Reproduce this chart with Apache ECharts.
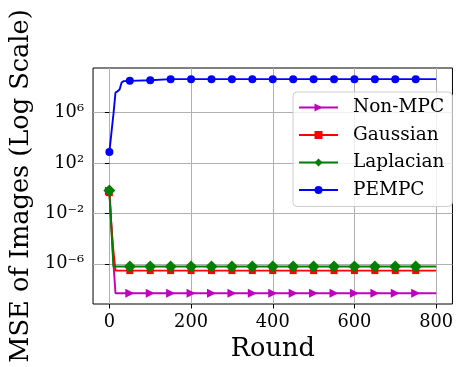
<!DOCTYPE html>
<html>
<head>
<meta charset="utf-8">
<script src="https://cdn.jsdelivr.net/npm/echarts@6/dist/echarts.min.js"></script>
<style>
  html, body { margin: 0; padding: 0; background: #fff; }
  #chart { width: 456px; height: 367px; }
</style>
</head>
<body>
<div id="chart"></div>
<script>
const rounds = [0, 5, 10, 15, 20, 25, 30, 35, 50, 100, 150, 200, 250, 300, 350, 400, 450, 500, 550, 600, 650, 700, 750, 800]

const nonMpc = [0.6, 1e-3, 1e-6, 4.6e-9, 4.6e-9, 4.6e-9, 4.6e-9, 4.6e-9, 4.6e-9, 4.6e-9, 4.6e-9, 4.6e-9, 4.6e-9, 4.6e-9, 4.6e-9, 4.6e-9, 4.6e-9, 4.6e-9, 4.6e-9, 4.6e-9, 4.6e-9, 4.6e-9, 4.6e-9, 4.6e-9]
const gaussian = [0.45, 1e-3, 1e-5, 2.9e-7, 2.9e-7, 2.9e-7, 2.9e-7, 2.9e-7, 2.9e-7, 2.9e-7, 2.9e-7, 2.9e-7, 2.9e-7, 2.9e-7, 2.9e-7, 2.9e-7, 2.9e-7, 2.9e-7, 2.9e-7, 2.9e-7, 2.9e-7, 2.9e-7, 2.9e-7, 2.9e-7]
const laplacian = [0.68, 5e-4, 6.2e-7, 6.2e-7, 6.2e-7, 6.2e-7, 6.2e-7, 6.2e-7, 6.2e-7, 6.2e-7, 6.2e-7, 6.2e-7, 6.2e-7, 6.2e-7, 6.2e-7, 6.2e-7, 6.2e-7, 6.2e-7, 6.2e-7, 6.2e-7, 6.2e-7, 6.2e-7, 6.2e-7, 6.2e-7]
const pempc = [7.7e2, 2.5e4, 8e5, 4e7, 5e7, 7e7, 2.5e8, 3.2e8, 3.4e8, 3.8e8, 4.6e8, 4.6e8, 4.6e8, 4.6e8, 4.6e8, 4.6e8, 4.6e8, 4.6e8, 4.6e8, 4.6e8, 4.6e8, 4.6e8, 4.6e8, 4.6e8]

const markerRounds = [0, 50, 100, 150, 200, 250, 300, 350, 400, 450, 500, 550, 600, 650, 700, 750]
const xTicks = [0, 200, 400, 600, 800]
const yTicks = [1e-6, 1e-2, 1e2, 1e6]

const FONT = 'DejaVu Serif'
const SUP = {'-': '\u207B', '0': '\u2070', '1': '\u00B9', '2': '\u00B2', '3': '\u00B3', '4': '\u2074', '5': '\u2075', '6': '\u2076', '7': '\u2077', '8': '\u2078', '9': '\u2079'}

const toSeries = (name, values, color, symbol, size, rotate) => ({
  name,
  type: 'line',
  data: rounds.map((r, i) => ({
    value: [r, values[i]],
    symbol: markerRounds.includes(r) ? symbol : 'none'
  })),
  color,
  symbol,
  symbolSize: size,
  symbolRotate: rotate,
  showSymbol: true,
  lineStyle: {width: 1.9, color},
  itemStyle: {color},
  emphasis: {disabled: true}
})

const chart = echarts.init(document.getElementById('chart'))
chart.setOption({
  animation: false,
  backgroundColor: '#fff',
  grid: {
    left: 91, right: 2.5, top: 68, bottom: 63,
    show: true, borderColor: '#000', borderWidth: 1
  },
  legend: {
    orient: 'vertical',
    left: 293, top: 92,
    padding: [6, 8, 7, 5],
    itemWidth: 39, itemHeight: 10, itemGap: 8.5,
    backgroundColor: 'rgba(255,255,255,0.8)',
    borderColor: '#cccccc', borderWidth: 1, borderRadius: 4,
    textStyle: {fontFamily: FONT, fontSize: 18.5, color: '#000', padding: [0, 0, 0, 10]}
  },
  xAxis: {
    type: 'value',
    min: -40, max: 840,
    name: 'Round',
    nameLocation: 'middle',
    nameGap: 27,
    nameTextStyle: {fontFamily: FONT, fontSize: 25.6, color: '#000'},
    axisLine: {show: false},
    axisTick: {show: true, customValues: xTicks, length: 4.5, lineStyle: {color: '#000', width: 1}},
    axisLabel: {customValues: xTicks, fontFamily: FONT, fontSize: 17.8, color: '#000', margin: 9},
    splitLine: {show: true, lineStyle: {color: '#b0b0b0', width: 1}}
  },
  yAxis: {
    type: 'log',
    logBase: 10,
    min: Math.pow(10, -9.19),
    max: Math.pow(10, 9.55),
    name: 'MSE of Images (Log Scale)',
    nameLocation: 'middle',
    nameRotate: 90,
    nameGap: 56,
    nameTextStyle: {fontFamily: FONT, fontSize: 25.6, color: '#000'},
    axisLine: {show: false},
    axisTick: {show: true, customValues: yTicks, length: 4.5, lineStyle: {color: '#000', width: 1}},
    axisLabel: {
      customValues: yTicks,
      fontFamily: FONT, fontSize: 17.8, color: '#000', margin: 9,
      formatter: (val) => {
        const e = String(Math.round(Math.log10(val)))
        return '10' + e.split('').map(c => SUP[c]).join('')
      }
    },
    splitLine: {show: true, lineStyle: {color: '#b0b0b0', width: 1}}
  },
  series: [
    toSeries('Non-MPC', nonMpc, '#bf00bf', 'triangle', 9, -90),
    toSeries('Gaussian', gaussian, '#ff0000', 'rect', 7, 0),
    toSeries('Laplacian', laplacian, '#008000', 'diamond', 12, 0),
    toSeries('PEMPC', pempc, '#0000ff', 'circle', 8, 0)
  ]
})
</script>
</body>
</html>
